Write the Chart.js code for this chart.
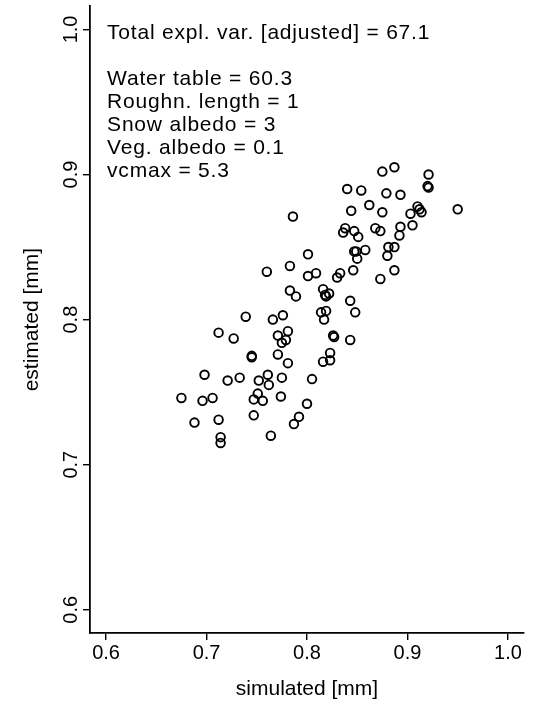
<!DOCTYPE html>
<html>
<head>
<meta charset="utf-8">
<script src="https://cdn.jsdelivr.net/npm/chart.js@4.4.1/dist/chart.umd.min.js"></script>
<style>
  html, body { margin: 0; padding: 0; background: #fff; }
  canvas { display: block; }
</style>
</head>
<body>
<canvas id="c" width="538" height="705"></canvas>
<script>
// Simulated vs. estimated values [mm]
const simulated = [
  0.786, 0.801, 0.760, 0.783, 0.801, 0.809, 0.783, 0.789, 0.875, 0.887,
  0.921, 0.920, 0.921, 0.840, 0.854, 0.879, 0.893, 0.862, 0.844, 0.875,
  0.950, 0.910, 0.912, 0.914, 0.903, 0.905, 0.893, 0.892, 0.868, 0.873,
  0.838, 0.836, 0.847, 0.851, 0.858, 0.847, 0.849, 0.850, 0.881, 0.887,
  0.880, 0.846, 0.887, 0.873, 0.833, 0.830, 0.816, 0.818, 0.822, 0.819,
  0.843, 0.739, 0.766, 0.776, 0.814, 0.819, 0.817, 0.848, 0.712, 0.727,
  0.771, 0.781, 0.779, 0.775, 0.745, 0.745, 0.771, 0.781, 0.826, 0.827,
  0.843, 0.823, 0.823, 0.816, 0.698, 0.721, 0.733, 0.752, 0.761, 0.762,
  0.775, 0.805, 0.675, 0.696, 0.706, 0.751, 0.747, 0.756, 0.774, 0.800,
  0.747, 0.688, 0.712, 0.792, 0.787, 0.764, 0.714, 0.714
];
const estimated = [
  0.871, 0.845, 0.833, 0.837, 0.830, 0.832, 0.820, 0.816, 0.902, 0.905,
  0.900, 0.892, 0.891, 0.890, 0.889, 0.887, 0.886, 0.879, 0.875, 0.874,
  0.876, 0.878, 0.876, 0.874, 0.873, 0.865, 0.864, 0.858, 0.863, 0.861,
  0.863, 0.860, 0.861, 0.857, 0.848, 0.847, 0.847, 0.842, 0.850, 0.850,
  0.844, 0.834, 0.834, 0.828, 0.832, 0.829, 0.821, 0.817, 0.818, 0.816,
  0.813, 0.802, 0.800, 0.803, 0.805, 0.806, 0.800, 0.805, 0.791, 0.787,
  0.789, 0.792, 0.786, 0.784, 0.775, 0.774, 0.776, 0.770, 0.789, 0.788,
  0.786, 0.777, 0.772, 0.771, 0.762, 0.758, 0.760, 0.758, 0.762, 0.755,
  0.760, 0.759, 0.746, 0.744, 0.746, 0.749, 0.745, 0.744, 0.747, 0.742,
  0.734, 0.729, 0.731, 0.733, 0.728, 0.720, 0.719, 0.715
];

const tickValues = [0.6, 0.7, 0.8, 0.9, 1.0];
const axisMin = 0.584;
const axisMax = 1.016;

const xTitle = 'simulated [mm]';
const yTitle = 'estimated [mm]';
const headerLine = 'Total expl. var. [adjusted] = 67.1';
const paramLines = [
  'Water table = 60.3',
  'Roughn. length = 1',
  'Snow albedo = 3',
  'Veg. albedo = 0.1',
  'vcmax = 5.3'
];

const FONT = '"Liberation Sans", Arial, Helvetica, sans-serif';
Chart.defaults.font.family = FONT;
Chart.defaults.color = '#000';

// Text block in the upper-left corner of the plot
const textBlock = {
  id: 'textBlock',
  afterDatasetsDraw(chart) {
    const ctx = chart.ctx;
    const x = chart.scales.x.getPixelForValue(0.6) + 1;
    const top = chart.chartArea.top;
    ctx.save();
    ctx.fillStyle = '#000';
    ctx.font = '21px ' + FONT;
    ctx.textAlign = 'left';
    ctx.textBaseline = 'alphabetic';
    if ('letterSpacing' in ctx) ctx.letterSpacing = '0.8px';
    ctx.fillText(headerLine, x, top + 33);
    paramLines.forEach((line, i) => {
      ctx.fillText(line, x, top + 79 + i * 23);
    });
    ctx.restore();
  }
};

const fixTicks = s => { s.ticks = tickValues.map(v => ({ value: v })); };

new Chart(document.getElementById('c'), {
  type: 'scatter',
  data: {
    datasets: [{
      data: simulated.map((v, i) => ({ x: v, y: estimated[i] })),
      pointStyle: 'circle',
      pointRadius: 4.3,
      pointHoverRadius: 4.3,
      pointBorderWidth: 1.9,
      borderColor: '#000',
      backgroundColor: 'rgba(0,0,0,0)'
    }]
  },
  options: {
    responsive: false,
    devicePixelRatio: 1,
    animation: false,
    events: [],
    layout: { padding: { left: 0, right: 14, top: 5, bottom: 0 } },
    plugins: { legend: { display: false }, tooltip: { enabled: false } },
    scales: {
      x: {
        type: 'linear',
        position: 'bottom',
        min: axisMin,
        max: axisMax,
        afterBuildTicks: fixTicks,
        afterFit: s => {
          s.height = 72;
          s.paddingLeft = 0; s.paddingRight = 0; s.paddingTop = 0; s.paddingBottom = 0;
        },
        grid: { display: true, drawOnChartArea: false, drawTicks: true, tickLength: 7, color: '#000', lineWidth: 1.4 },
        border: { display: true, color: '#000', width: 1.8 },
        ticks: {
          padding: 1, color: '#000', font: { size: 20 },
          minRotation: 0, maxRotation: 0, autoSkip: false,
          callback: v => Number(v).toFixed(1)
        },
        title: { display: true, text: xTitle, color: '#000', font: { size: 21 }, padding: { top: 0, bottom: 3 } }
      },
      y: {
        type: 'linear',
        position: 'left',
        min: axisMin,
        max: axisMax,
        afterBuildTicks: fixTicks,
        afterFit: s => {
          s.width = 90;
          s.paddingLeft = 0; s.paddingRight = 0; s.paddingTop = 0; s.paddingBottom = 0;
        },
        grid: { display: true, drawOnChartArea: false, drawTicks: true, tickLength: 7, color: '#000', lineWidth: 1.4 },
        border: { display: true, color: '#000', width: 1.8 },
        ticks: {
          padding: -2, color: '#000', font: { size: 20 },
          minRotation: 90, maxRotation: 90, crossAlign: 'center', autoSkip: false,
          callback: v => Number(v).toFixed(1)
        },
        title: { display: true, text: yTitle, color: '#000', font: { size: 21 }, padding: { top: 20, bottom: 0 } }
      }
    }
  },
  plugins: [textBlock]
});
</script>
</body>
</html>
